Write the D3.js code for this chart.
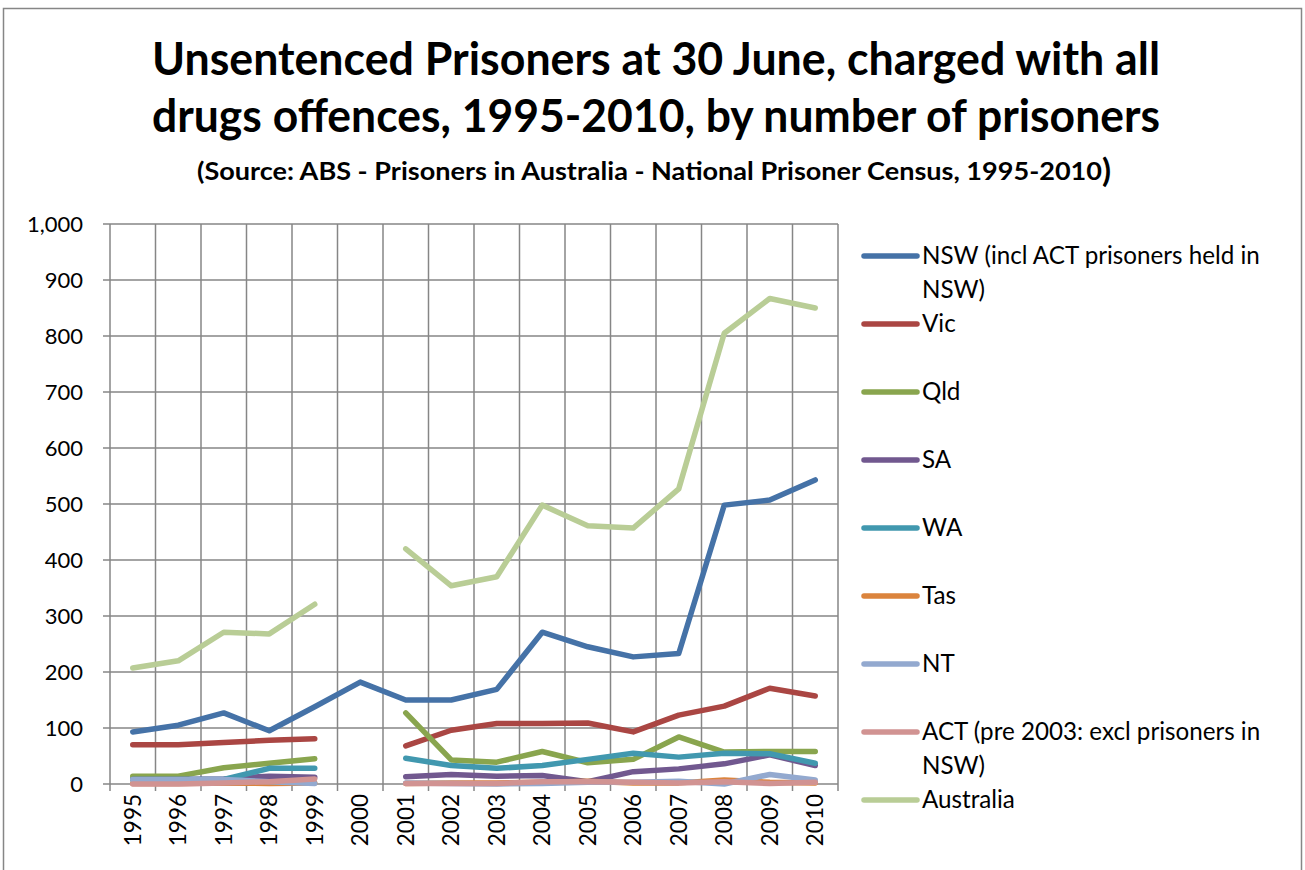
<!DOCTYPE html>
<html>
<head>
<meta charset="utf-8">
<script src="https://cdn.jsdelivr.net/npm/d3@7"></script>
<style>
  body { margin: 0; background: #fff; }
  svg { font-family: Lato, "Open Sans", sans-serif; }
</style>
</head>
<body>
<svg id="chart" width="1305" height="870"></svg>
<script>
// data (null = no value, line breaks)
const years = [1995, 1996, 1997, 1998, 1999, 2000, 2001, 2002, 2003, 2004, 2005, 2006, 2007, 2008, 2009, 2010];
const nsw = [93, 105, 127, 95, 138, 182, 150, 150, 169, 271, 245, 227, 233, 498, 507, 543];
const vic = [70, 70, 74, 78, 81, null, 68, 96, 108, 108, 109, 93, 123, 139, 171, 157];
const qld = [14, 14, 29, 37, 45, null, 127, 43, 39, 58, 38, 44, 84, 57, 58, 58];
const sa = [8, 8, 9, 14, 12, null, 13, 17, 14, 15, 4, 22, 27, 36, 52, 33];
const wa = [8, 8, 8, 28, 28, null, 46, 33, 28, 33, 44, 55, 48, 55, 54, 37];
const tas = [1, 1, 2, 1, 2, null, 1, 2, 2, 3, 5, 2, 2, 7, 3, 2];
const nt = [8, 8, 8, 4, 1, null, 2, 1, 0, 1, 3, 3, 5, 0, 17, 7];
const act = [0, 0, 2, 4, 9, null, 1, 1, 1, 4, 4, 3, 2, 4, 1, 3];
const australia = [207, 220, 271, 268, 321, null, 420, 354, 370, 498, 461, 457, 527, 805, 867, 850];
const yTicks = [0, 100, 200, 300, 400, 500, 600, 700, 800, 900, 1000];

const series = [
  { name: ["NSW (incl ACT prisoners held in", "NSW)"], values: nsw, color: "#4572A7" },
  { name: ["Vic"], values: vic, color: "#AA4643" },
  { name: ["Qld"], values: qld, color: "#89A54E" },
  { name: ["SA"], values: sa, color: "#71588F" },
  { name: ["WA"], values: wa, color: "#4198AF" },
  { name: ["Tas"], values: tas, color: "#DB843D" },
  { name: ["NT"], values: nt, color: "#93A9CF" },
  { name: ["ACT (pre 2003: excl prisoners in", "NSW)"], values: act, color: "#D19392" },
  { name: ["Australia"], values: australia, color: "#B9CD96" }
];

const svg = d3.select("#chart");
const grid = "#868686";
const plot = { left: 110, right: 838, top: 224, bottom: 784 };

// chart frame
svg.append("rect")
  .attr("x", 3.5).attr("y", 8.5).attr("width", 1298).attr("height", 900)
  .attr("fill", "#fff").attr("stroke", grid).attr("stroke-width", 1.5);

// titles
svg.append("text").attr("x", 656).attr("y", 75).attr("text-anchor", "middle")
  .attr("font-size", 45).attr("font-weight", "bold")
  .attr("textLength", 1008).attr("lengthAdjust", "spacingAndGlyphs")
  .text("Unsentenced Prisoners at 30 June, charged with all");
svg.append("text").attr("x", 656).attr("y", 132).attr("text-anchor", "middle")
  .attr("font-size", 45).attr("font-weight", "bold")
  .attr("textLength", 1008).attr("lengthAdjust", "spacingAndGlyphs")
  .text("drugs offences, 1995-2010, by number of prisoners");
const sub = svg.append("text").attr("x", 197).attr("y", 180)
  .attr("font-size", 25).attr("font-weight", "bold");
sub.append("tspan").attr("textLength", 905).attr("lengthAdjust", "spacingAndGlyphs")
  .text("(Source: ABS - Prisoners in Australia - National Prisoner Census, 1995-2010");
sub.append("tspan").attr("font-size", 33).attr("dy", 2).text(")");

const x = d3.scaleBand().domain(years).range([plot.left, plot.right]);
const y = d3.scaleLinear().domain([0, 1000]).range([plot.bottom, plot.top]);

// gridlines
const g = svg.append("g");
g.selectAll(".hgrid").data(yTicks).join("line")
  .attr("x1", plot.left - 7).attr("x2", plot.right)
  .attr("y1", d => y(d)).attr("y2", d => y(d))
  .attr("stroke", grid).attr("stroke-width", 1.5);
const edges = years.map(d => x(d)).concat([plot.right]);
g.selectAll(".vgrid").data(edges).join("line")
  .attr("x1", d => d).attr("x2", d => d)
  .attr("y1", plot.top).attr("y2", plot.bottom + 7)
  .attr("stroke", grid).attr("stroke-width", 1.5);

// axes labels
const yAxis = svg.append("g").attr("transform", `translate(${plot.left},0)`)
  .call(d3.axisLeft(y).tickValues(yTicks).tickSize(0).tickPadding(27).tickFormat(d3.format(",")));
yAxis.select(".domain").remove();
yAxis.selectAll("text").attr("font-size", 22).attr("fill", "#000").attr("font-family", "Lato");

const xAxis = svg.append("g").attr("transform", `translate(0,${plot.bottom})`)
  .call(d3.axisBottom(x).tickSize(0));
xAxis.select(".domain").remove();
xAxis.selectAll("text")
  .attr("font-size", 22.5).attr("fill", "#000").attr("font-family", "Lato")
  .attr("transform", "rotate(-90)")
  .attr("x", -10).attr("y", 0).attr("dy", "0.35em")
  .attr("text-anchor", "end");

// lines
const line = d3.line()
  .defined(d => d != null)
  .x((d, i) => x(years[i]) + x.bandwidth() / 2)
  .y(d => y(d));

svg.append("g").selectAll("path").data(series).join("path")
  .attr("d", s => line(s.values))
  .attr("fill", "none")
  .attr("stroke", s => s.color)
  .attr("stroke-width", 5.5)
  .attr("stroke-linejoin", "round")
  .attr("stroke-linecap", "round");

// legend
const legend = svg.append("g");
let ly = 256;
series.forEach(s => {
  legend.append("line")
    .attr("x1", 864).attr("x2", 917).attr("y1", ly).attr("y2", ly)
    .attr("stroke", s.color).attr("stroke-width", 5.5).attr("stroke-linecap", "round");
  s.name.forEach((t, i) => {
    legend.append("text")
      .attr("x", 922).attr("y", ly + i * 34).attr("dy", "0.35em")
      .attr("font-size", 24.2).text(t);
  });
  ly += 68;
});
</script>
</body>
</html>
